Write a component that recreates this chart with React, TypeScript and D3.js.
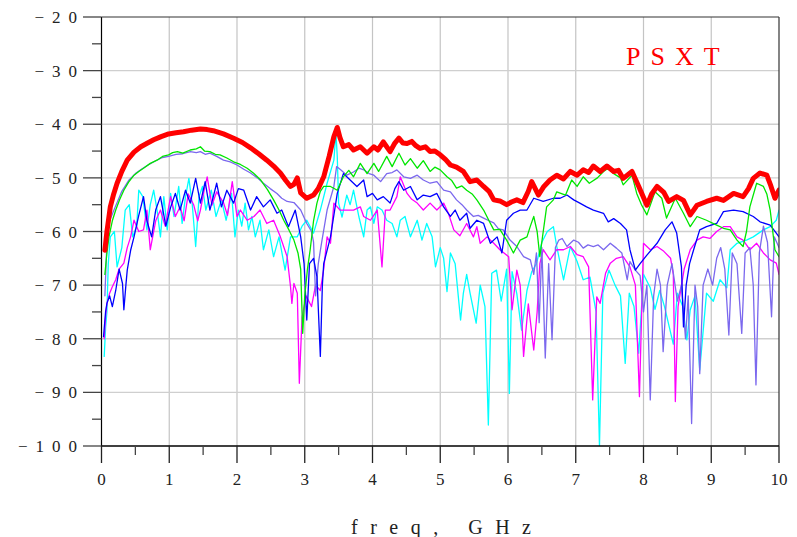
import React, { useEffect, useRef } from 'react';
import * as d3 from 'd3';

const W = 797;
const H = 537;

const yTicks = [-100, -90, -80, -70, -60, -50, -40, -30, -20];
const yMinor = [-95, -85, -75, -65, -55, -45, -35, -25];
const xTicks = [0, 1, 2, 3, 4, 5, 6, 7, 8, 9, 10];
const xMinor = [0.5, 1.5, 2.5, 3.5, 4.5, 5.5, 6.5, 7.5, 8.5, 9.5];

// [freq GHz, dB]
const psxt = [
  [0.05, -63.5], [0.08, -60], [0.13, -55.4], [0.18, -53], [0.23, -51], [0.3, -48.8], [0.38, -46.7], [0.48, -45.2],
  [0.58, -44.2], [0.68, -43.5], [0.77, -42.9], [0.88, -42.3], [0.99, -41.8], [1.1, -41.6], [1.21, -41.4], [1.33, -41.1],
  [1.46, -40.9], [1.56, -41], [1.65, -41.2], [1.8, -41.8], [1.95, -42.6], [2.08, -43.4], [2.2, -44.4], [2.32, -45.5],
  [2.44, -46.7], [2.54, -47.8], [2.64, -49.1], [2.72, -50.5], [2.79, -51.6], [2.84, -51.2], [2.89, -50], [2.94, -52.8],
  [3.03, -53.8], [3.13, -53.2], [3.2, -52], [3.28, -49.8], [3.36, -46], [3.43, -42.3], [3.48, -40.6], [3.52, -42.5],
  [3.57, -44.2], [3.65, -43.8], [3.72, -44.8], [3.82, -44.2], [3.92, -45.4], [4.02, -44.2], [4.08, -44.8], [4.16, -43.3],
  [4.26, -45.1], [4.33, -43.5], [4.39, -42.6], [4.45, -43.5], [4.51, -43.6], [4.58, -43.2], [4.64, -44], [4.7, -44.5],
  [4.78, -44.2], [4.85, -45.1], [4.92, -45], [5.0, -45.7], [5.08, -46.6], [5.15, -47.6], [5.24, -48], [5.34, -48.8],
  [5.44, -50.7], [5.54, -50.4], [5.64, -51.6], [5.72, -52.5], [5.79, -54.1], [5.88, -54.3], [5.98, -55], [6.05, -54.5],
  [6.13, -54.1], [6.22, -54.6], [6.3, -52.5], [6.35, -50.7], [6.45, -53.2], [6.53, -51.6], [6.62, -50.4], [6.72, -49.5],
  [6.82, -50.2], [6.92, -48.8], [7.02, -49.5], [7.11, -48.5], [7.19, -49], [7.26, -47.8], [7.36, -48.8], [7.46, -47.8],
  [7.56, -48.8], [7.63, -48.6], [7.7, -50.1], [7.83, -48.8], [7.93, -51.6], [8.05, -55.1], [8.12, -53], [8.2, -51.6],
  [8.3, -52.7], [8.37, -54.4], [8.49, -53.5], [8.59, -54.2], [8.69, -56.9], [8.79, -55.1], [8.93, -54.4], [9.08, -53.8],
  [9.18, -54.2], [9.33, -52.9], [9.47, -53.5], [9.55, -52], [9.62, -50.1], [9.72, -49.1], [9.82, -49.5], [9.88, -51.5],
  [9.94, -53.8], [10, -52.3],
];

const green = [
  [0.05, -68], [0.08, -64], [0.11, -61], [0.16, -58], [0.21, -56], [0.27, -54], [0.33, -52.3], [0.4, -50.8],
  [0.48, -49.5], [0.55, -48.8], [0.62, -48.2], [0.72, -47.3], [0.82, -46.7], [0.9, -46], [0.99, -45.7], [1.05, -45.3],
  [1.12, -45.1], [1.2, -45.4], [1.31, -44.8], [1.4, -44.6], [1.46, -44.2], [1.52, -45], [1.6, -45.1], [1.68, -45.6],
  [1.75, -45.7], [1.85, -46.3], [1.95, -47], [2.05, -47.5], [2.15, -48.2], [2.25, -49.2], [2.35, -50.4], [2.45, -52.2],
  [2.54, -54.1], [2.62, -56], [2.69, -57.9], [2.77, -59.8], [2.84, -61.6], [2.9, -64], [2.94, -67], [2.97, -79],
  [3.0, -72], [3.04, -67], [3.08, -63.4], [3.13, -58], [3.18, -54.7], [3.23, -52.5], [3.28, -51.6], [3.38, -51.6],
  [3.48, -52.3], [3.57, -49.8], [3.65, -48.6], [3.72, -49.8], [3.82, -47.3], [3.92, -49.2], [4.02, -47.3], [4.09, -48.8],
  [4.21, -46], [4.29, -47.9], [4.39, -45.4], [4.48, -47.6], [4.56, -46.4], [4.66, -48.2], [4.75, -46.8], [4.85, -48.8],
  [4.92, -48], [5.0, -48.5], [5.1, -49.8], [5.17, -50.5], [5.24, -51.9], [5.32, -51.5], [5.39, -52.3], [5.47, -53],
  [5.54, -54.1], [5.64, -56], [5.72, -58], [5.79, -59.7], [5.88, -59.6], [5.98, -61.6], [6.08, -64], [6.18, -61.6],
  [6.28, -61], [6.33, -59], [6.38, -57.2], [6.43, -60], [6.47, -64.7], [6.52, -60], [6.57, -55.4], [6.67, -54.1],
  [6.72, -52.6], [6.85, -53.2], [6.94, -50.4], [7.02, -51.6], [7.11, -49.8], [7.2, -51], [7.32, -50], [7.41, -48.8],
  [7.48, -48.2], [7.56, -49.2], [7.66, -50], [7.7, -51.3], [7.83, -49.5], [7.9, -52.9], [7.97, -55], [8.05, -56.9],
  [8.17, -52.6], [8.27, -53.8], [8.34, -57.5], [8.47, -53.8], [8.59, -56.6], [8.69, -59.1], [8.79, -57.2], [8.93, -57.9],
  [9.08, -58.8], [9.18, -59.4], [9.28, -59.7], [9.38, -61.6], [9.47, -62.8], [9.52, -60], [9.57, -55.4], [9.67, -51],
  [9.77, -51.6], [9.82, -53], [9.87, -56], [9.94, -63.4], [10, -64.7],
];

const purple = [
  [0.05, -72], [0.08, -62], [0.12, -58], [0.2, -55.5], [0.3, -52.5], [0.4, -50.5], [0.5, -49.2], [0.6, -48.3],
  [0.7, -47.5], [0.8, -46.8], [0.9, -46.2], [0.99, -46], [1.1, -45.6], [1.2, -45.5], [1.31, -45.1], [1.4, -45.3],
  [1.46, -45.1], [1.53, -45.6], [1.6, -45.4], [1.7, -46], [1.8, -46.7], [1.9, -47], [2.0, -47.6], [2.1, -48.4],
  [2.2, -49.1], [2.3, -50], [2.39, -51], [2.49, -52], [2.59, -52.9], [2.66, -53.8], [2.74, -54.4], [2.84, -54.6],
  [2.94, -56], [3.03, -58.5], [3.1, -60], [3.13, -62], [3.16, -72], [3.2, -66], [3.25, -62], [3.33, -56],
  [3.43, -51.6], [3.47, -47.9], [3.53, -48.5], [3.62, -49.5], [3.72, -48.9], [3.8, -48.2], [3.87, -48.5], [3.95, -49.2],
  [4.02, -49.5], [4.12, -50.7], [4.21, -49.2], [4.29, -49], [4.36, -48.5], [4.46, -49.8], [4.56, -50.1], [4.66, -49.5],
  [4.75, -50.4], [4.85, -51], [4.95, -50.7], [5.05, -52.3], [5.15, -52.6], [5.24, -54.1], [5.32, -55], [5.39, -56],
  [5.49, -57.2], [5.56, -57], [5.64, -57.5], [5.72, -58], [5.79, -58.4], [5.86, -59.5], [5.93, -59.7], [6.03, -61.6],
  [6.13, -62.8], [6.23, -64.7], [6.33, -65.3], [6.38, -68], [6.42, -64], [6.46, -77], [6.5, -63], [6.55, -83.6],
  [6.6, -66], [6.65, -80.2], [6.7, -63], [6.75, -61.6], [6.8, -61.3], [6.87, -62.8], [6.97, -61.6], [7.04, -62],
  [7.11, -63.1], [7.18, -62.5], [7.26, -62.8], [7.33, -62.5], [7.41, -63.4], [7.51, -62.2], [7.6, -63.1], [7.68, -64],
  [7.76, -69], [7.8, -65.6], [7.88, -67.2], [7.95, -68.2], [8.0, -75], [8.05, -70], [8.1, -91.4], [8.15, -72],
  [8.2, -67], [8.25, -70], [8.29, -82.4], [8.35, -70], [8.42, -66], [8.5, -73], [8.56, -70], [8.62, -80],
  [8.66, -72], [8.71, -95.8], [8.76, -70], [8.8, -74], [8.83, -86.5], [8.88, -70], [8.95, -67], [9.02, -70],
  [9.08, -65], [9.14, -63], [9.2, -67], [9.26, -79.3], [9.31, -64], [9.38, -66], [9.45, -79], [9.5, -64],
  [9.57, -63], [9.62, -70], [9.66, -88.6], [9.71, -64], [9.77, -59], [9.83, -62], [9.89, -75.9], [9.93, -61],
  [10, -63],
];

const blue = [
  [0.03, -79.6], [0.06, -75], [0.08, -73.4], [0.12, -72], [0.16, -74], [0.21, -71], [0.26, -67], [0.31, -69.7],
  [0.33, -74.6], [0.36, -70], [0.38, -67.2], [0.43, -63.5], [0.48, -61], [0.55, -57], [0.62, -53.5], [0.67, -58],
  [0.74, -61], [0.8, -56], [0.87, -53.5], [0.95, -59], [1.02, -55.5], [1.09, -52.9], [1.16, -56], [1.24, -52.3],
  [1.31, -54.7], [1.39, -50.1], [1.46, -54.7], [1.53, -50.7], [1.6, -56], [1.7, -51], [1.77, -55.4], [1.85, -52.3],
  [1.95, -54.7], [2.02, -52], [2.1, -52.3], [2.2, -56], [2.29, -53.5], [2.39, -55.4], [2.49, -54.1], [2.59, -56.6],
  [2.66, -56], [2.76, -59.1], [2.86, -56], [2.94, -61], [2.99, -66], [3.03, -76.5], [3.07, -66], [3.13, -65],
  [3.18, -68.4], [3.23, -83.3], [3.26, -70], [3.28, -66], [3.38, -61], [3.48, -52.9], [3.57, -49.2], [3.67, -50.4],
  [3.77, -51.6], [3.87, -50.4], [3.92, -53.5], [4.0, -52.9], [4.07, -54.1], [4.16, -53.5], [4.26, -54.7], [4.33, -52],
  [4.39, -50.7], [4.46, -52.3], [4.56, -51.6], [4.66, -54.1], [4.75, -53.2], [4.85, -53.5], [4.95, -52.9], [5.05, -55.4],
  [5.15, -57.2], [5.22, -56], [5.29, -57.9], [5.39, -56.6], [5.44, -59.4], [5.54, -57.9], [5.64, -58.5], [5.74, -62.2],
  [5.84, -61], [5.91, -64], [5.98, -57.9], [6.08, -56.6], [6.18, -56], [6.28, -56], [6.38, -53.8], [6.52, -54.4],
  [6.67, -53.8], [6.77, -53.8], [6.87, -53.2], [6.97, -54.1], [7.06, -54.7], [7.16, -55.4], [7.26, -56], [7.41, -56.6],
  [7.48, -58.2], [7.56, -57.6], [7.66, -58.5], [7.75, -59.7], [7.8, -63.4], [7.88, -67.2], [7.95, -66], [8.05, -64.4],
  [8.2, -62.2], [8.32, -59.7], [8.42, -58.2], [8.49, -60.3], [8.56, -66.6], [8.59, -77.8], [8.63, -70], [8.68, -66],
  [8.74, -63.4], [8.83, -59.7], [8.93, -59.1], [9.08, -58.5], [9.18, -56.3], [9.33, -56], [9.47, -56.3], [9.62, -57.2],
  [9.72, -58.2], [9.87, -58.8], [9.96, -60.3], [10, -61],
];

const magenta = [
  [0.04, -80], [0.06, -75.9], [0.08, -73.4], [0.12, -71.5], [0.16, -70.3], [0.21, -69], [0.26, -67], [0.33, -65.9],
  [0.38, -63], [0.43, -61], [0.48, -57.9], [0.55, -60], [0.62, -59.7], [0.67, -56], [0.72, -63.4], [0.8, -58],
  [0.87, -56], [0.94, -59], [1.02, -53.5], [1.09, -57.2], [1.16, -55.4], [1.22, -58], [1.28, -53], [1.36, -55],
  [1.42, -58], [1.46, -56], [1.52, -52], [1.56, -49.8], [1.63, -55.1], [1.7, -52.6], [1.8, -54.6], [1.86, -57],
  [1.93, -50.7], [2.0, -57.2], [2.05, -56], [2.15, -57.9], [2.25, -57.2], [2.34, -56], [2.44, -58.5], [2.54, -57.9],
  [2.64, -61], [2.74, -64.7], [2.79, -70.3], [2.81, -73.4], [2.84, -69.7], [2.89, -71.5], [2.92, -88.3], [2.96, -76],
  [3.02, -72], [3.1, -74], [3.16, -70], [3.23, -71], [3.28, -67], [3.33, -61], [3.38, -62.2], [3.43, -54.7],
  [3.52, -56], [3.62, -56], [3.72, -56], [3.82, -55.4], [3.87, -57.2], [3.97, -57.9], [4.07, -56], [4.14, -66.6],
  [4.19, -56], [4.26, -56], [4.36, -53.5], [4.41, -49.8], [4.51, -52.9], [4.58, -54], [4.66, -54.7], [4.75, -56],
  [4.85, -54.7], [4.95, -56], [5.05, -54.7], [5.12, -56.6], [5.2, -59.7], [5.29, -60.8], [5.39, -58.5], [5.49, -61],
  [5.54, -59.1], [5.59, -62.2], [5.69, -61], [5.79, -62.2], [5.88, -63.4], [6.01, -64.7], [6.06, -74.6], [6.13, -67.2],
  [6.18, -70], [6.23, -83.3], [6.3, -73.5], [6.38, -82.1], [6.43, -75], [6.47, -66], [6.52, -63.4], [6.62, -65.3],
  [6.72, -63.4], [6.82, -63.4], [6.92, -62.8], [7.02, -64.3], [7.11, -64.7], [7.19, -66.6], [7.25, -91.4], [7.31, -72.2],
  [7.36, -73.4], [7.44, -67.8], [7.51, -65.9], [7.6, -65], [7.7, -64.7], [7.8, -66.6], [7.88, -70], [7.94, -90.8],
  [8.0, -62.2], [8.1, -63.4], [8.2, -62.8], [8.3, -63.7], [8.4, -65], [8.44, -68], [8.47, -91.7], [8.51, -74],
  [8.6, -67], [8.69, -63.4], [8.79, -61.6], [8.88, -61], [8.98, -61.3], [9.08, -60], [9.18, -59.1], [9.28, -59.1],
  [9.38, -61], [9.47, -61.6], [9.57, -63.4], [9.67, -62.2], [9.77, -64], [9.87, -65.3], [9.96, -65.9], [10, -68],
];

const cyan = [
  [0.04, -83.3], [0.06, -78], [0.08, -75], [0.1, -66], [0.13, -61], [0.19, -60], [0.23, -66.6], [0.3, -63],
  [0.35, -56], [0.41, -55], [0.46, -61], [0.52, -59], [0.55, -52.3], [0.61, -53.5], [0.67, -59.7], [0.72, -55],
  [0.77, -52.3], [0.82, -56], [0.87, -61], [0.92, -53.5], [0.97, -59.7], [1.02, -52.9], [1.07, -57.2], [1.14, -51.6],
  [1.19, -58.5], [1.24, -53.5], [1.29, -50.1], [1.34, -55], [1.39, -62.8], [1.44, -53.5], [1.49, -51.6], [1.54, -56],
  [1.62, -52.3], [1.69, -57.2], [1.77, -54.1], [1.84, -57.9], [1.92, -52.9], [1.97, -61], [2.02, -56], [2.07, -59],
  [2.12, -54.7], [2.17, -59.7], [2.22, -57.2], [2.27, -61], [2.34, -57.9], [2.39, -63.4], [2.47, -59.7], [2.54, -64.7],
  [2.62, -61], [2.71, -67.2], [2.79, -61], [2.89, -61], [2.96, -59], [3.03, -57.9], [3.13, -60.3], [3.23, -56],
  [3.33, -51], [3.43, -46.7], [3.46, -41.5], [3.48, -46], [3.5, -54.7], [3.55, -57.3], [3.62, -53.2], [3.67, -55],
  [3.72, -52.3], [3.8, -57.3], [3.87, -61], [3.92, -56], [3.97, -55.4], [4.02, -58.5], [4.07, -55.4], [4.14, -56],
  [4.21, -57.9], [4.29, -58.5], [4.36, -61], [4.41, -57.9], [4.48, -57.2], [4.56, -61], [4.66, -57.9], [4.73, -61.6],
  [4.8, -58.5], [4.88, -61], [4.93, -66.6], [5.0, -63], [5.05, -65], [5.1, -71.2], [5.15, -64], [5.22, -66],
  [5.3, -76.5], [5.34, -71.6], [5.39, -68], [5.44, -71.5], [5.53, -77.1], [5.59, -70], [5.66, -74], [5.71, -96.1],
  [5.76, -67.8], [5.83, -67.2], [5.9, -73], [5.98, -67], [6.02, -90.2], [6.06, -67.5], [6.13, -71.6], [6.2, -78.4],
  [6.28, -71], [6.35, -67.5], [6.42, -66], [6.5, -62], [6.58, -60], [6.67, -59.1], [6.72, -62.8], [6.82, -69],
  [6.92, -62.8], [7.02, -65.6], [7.11, -69], [7.21, -68.5], [7.3, -75], [7.35, -100], [7.4, -71.5], [7.49, -67.2],
  [7.58, -70], [7.66, -72], [7.73, -84.6], [7.79, -71.5], [7.86, -74], [7.93, -82.7], [8.0, -68], [8.1, -70.5],
  [8.17, -74.5], [8.24, -71], [8.31, -74], [8.44, -81], [8.5, -71.5], [8.58, -74], [8.64, -80.2], [8.69, -74.6],
  [8.76, -72], [8.83, -85.8], [8.93, -71.5], [9.03, -73], [9.13, -69], [9.23, -70.5], [9.28, -63.4], [9.38, -62.2],
  [9.52, -61.6], [9.62, -61], [9.77, -59.7], [9.87, -59.1], [9.96, -57.9], [10, -56],
];

const series = [
  { name: 'cyan', data: cyan, color: '#00ffff', width: 1.3 },
  { name: 'magenta', data: magenta, color: '#ff00ff', width: 1.3 },
  { name: 'purple', data: purple, color: '#7b68ee', width: 1.3 },
  { name: 'blue', data: blue, color: '#0000ff', width: 1.3 },
  { name: 'green', data: green, color: '#00e600', width: 1.3 },
  { name: 'PSXT', data: psxt, color: '#ff0000', width: 5 },
];

const x = d3.scaleLinear().domain([0, 10]).range([101.5, 779]);
const y = d3.scaleLinear().domain([-100, -20]).range([446, 17]);

export default function App() {
  const ref = useRef<SVGGElement>(null);

  useEffect(() => {
    const g = d3.select(ref.current);
    g.selectAll('*').remove();

    const line = d3
      .line<number[]>()
      .x(d => x(d[0]))
      .y(d => y(d[1]));

    g.selectAll('path.trace')
      .data(series)
      .enter()
      .append('path')
      .attr('class', 'trace')
      .attr('fill', 'none')
      .attr('stroke', d => d.color)
      .attr('stroke-width', d => d.width)
      .attr('stroke-linejoin', 'round')
      .attr('stroke-linecap', 'round')
      .attr('d', d => line(d.data));
  }, []);

  const font = '"Liberation Serif", "DejaVu Serif", serif';

  return (
    <svg width={W} height={H} style={{ position: 'absolute', left: 0, top: 0, background: '#fff' }}>
      <defs>
        <clipPath id="plot">
          <rect x={x(0)} y={y(-20) - 3} width={x(10) - x(0)} height={y(-100) - y(-20) + 3} />
        </clipPath>
      </defs>

      {/* grid */}
      {xTicks.slice(1, -1).map(t => (
        <line key={'gx' + t} x1={x(t)} x2={x(t)} y1={y(-20)} y2={y(-100)} stroke="#c4c4c4" strokeWidth={1.2} />
      ))}
      {yTicks.slice(1, -1).map(t => (
        <line key={'gy' + t} x1={x(0)} x2={x(10)} y1={y(t)} y2={y(t)} stroke="#cfcfcf" strokeWidth={1.4} />
      ))}

      <g ref={ref} clipPath="url(#plot)" />

      {/* frame */}
      <line x1={x(0)} x2={x(10)} y1={y(-20)} y2={y(-20)} stroke="#333" strokeWidth={1.2} />
      <line x1={x(10)} x2={x(10)} y1={y(-20)} y2={y(-100)} stroke="#333" strokeWidth={1.2} />
      <line x1={x(0)} x2={x(0)} y1={y(-20)} y2={y(-100)} stroke="#000" strokeWidth={1.2} />
      <line x1={x(0)} x2={x(10)} y1={y(-100)} y2={y(-100)} stroke="#000" strokeWidth={1.4} />

      {/* y axis ticks */}
      {yTicks.map(t => (
        <g key={'yt' + t}>
          <line x1={83} x2={x(0)} y1={y(t)} y2={y(t)} stroke="#444" strokeWidth={1.3} />
          <text
            x={85}
            y={y(t) + 6}
            textAnchor="end"
            fontFamily={font}
            fontSize={17}
            letterSpacing={8}
            fill="#222"
          >
            {'\u2212' + String(-t)}
          </text>
        </g>
      ))}
      {yMinor.map(t => (
        <line key={'ym' + t} x1={92} x2={x(0)} y1={y(t)} y2={y(t)} stroke="#444" strokeWidth={1.3} />
      ))}

      {/* x axis ticks */}
      {xTicks.map(t => (
        <g key={'xt' + t}>
          <line x1={x(t)} x2={x(t)} y1={y(-100)} y2={463} stroke="#222" strokeWidth={1.3} />
          <text x={x(t)} y={485} textAnchor="middle" fontFamily={font} fontSize={17} fill="#222">
            {String(t)}
          </text>
        </g>
      ))}
      {xMinor.map(t => (
        <line key={'xm' + t} x1={x(t)} x2={x(t)} y1={y(-100)} y2={455} stroke="#444" strokeWidth={1.3} />
      ))}

      <text x={351} y={534} fontFamily={font} fontSize={20} letterSpacing={12.5} fill="#222">
        freq, GHz
      </text>

      <text x={626} y={65} fontFamily={font} fontSize={26} letterSpacing={10} fill="#ff0000">
        PSXT
      </text>
    </svg>
  );
}
